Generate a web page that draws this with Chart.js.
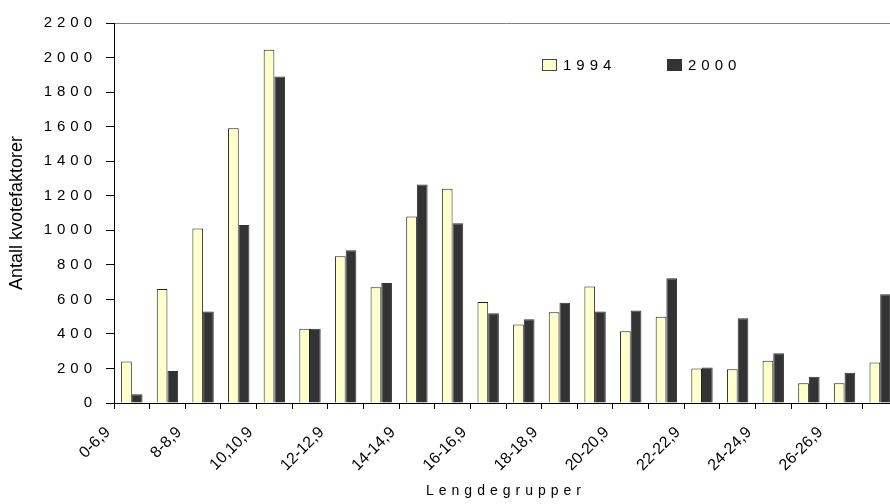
<!DOCTYPE html>
<html>
<head>
<meta charset="utf-8">
<script src="https://cdn.jsdelivr.net/npm/chart.js@4.4.1/dist/chart.umd.min.js"></script>
<style>
  html, body { margin: 0; padding: 0; background: #fff; overflow: hidden; }
  #wrap { position: relative; width: 898px; height: 504px; }
  #legend { position: absolute; left: 0; top: 0; font-family: "Liberation Sans", Arial, sans-serif; font-size: 15px; color: #000; }
  .item { position: absolute; top: 56px; line-height: 17px; white-space: nowrap; letter-spacing: 5px; }
  .box { display: inline-block; width: 13px; height: 10px; border: 1px solid #444; margin-right: 6px; vertical-align: -1px; }
</style>
</head>
<body>
<div id="wrap">
  <canvas id="chart" width="898" height="504"></canvas>
  <div id="legend"></div>
</div>
<script>
const lengthGroups = ["0-6,9", "7-7,9", "8-8,9", "9-9,9", "10,10,9", "11-11,9", "12-12,9", "13-13,9",
  "14-14,9", "15-15,9", "16-16,9", "17-17,9", "18-18,9", "19-19,9", "20-20,9", "21-21,9",
  "22-22,9", "23-23,9", "24-24,9", "25-25,9", "26-26,9", "27-27,9"];
const values1994 = [240, 660, 1010, 1590, 2045, 430, 850, 670, 1080, 1240, 585,
  455, 525, 675, 415, 500, 200, 195, 245, 115, 115, 235];
const values2000 = [50, 185, 530, 1030, 1890, 430, 885, 695, 1265, 1040, 520,
  485, 580, 530, 535, 722, 205, 490, 288, 152, 175, 630];
const seriesNames = ["1994", "2000"];
const seriesColors = ["#ffffcc", "#333333"];
const yMax = 2200;
const yStep = 200;

// canvas has no letter-spacing option in chart.js, so scales are drawn by hand
const letterSpacing = {
  x: { title: "5px", ticks: "0px" },
  y: { title: "0px", ticks: "5px" },
};
const spacedText = {
  id: "spacedText",
  beforeLayout(chart) {
    const ctx = chart.ctx;
    Object.keys(chart.scales).forEach((id) => {
      const sp = letterSpacing[id] || { title: "0px", ticks: "0px" };
      chart.scales[id].draw = function (area) {
        this.drawBackground();
        this.drawGrid(area);
        this.drawBorder();
        ctx.letterSpacing = sp.title;
        this.drawTitle();
        ctx.letterSpacing = sp.ticks;
        this.drawLabels(area);
        ctx.letterSpacing = "0px";
      };
    });
  },
};

const font = "'Liberation Sans', Arial, sans-serif";
const ctx = document.getElementById("chart").getContext("2d");
const myChart = new Chart(ctx, {
  type: "bar",
  data: {
    labels: lengthGroups,
    datasets: [
      {
        label: seriesNames[0],
        data: values1994,
        backgroundColor: seriesColors[0],
        borderColor: "#222",
        borderWidth: 1,
      },
      {
        label: seriesNames[1],
        data: values2000,
        backgroundColor: seriesColors[1],
        borderColor: "#333",
        borderWidth: 1,
      },
    ],
  },
  options: {
    responsive: false,
    animation: false,
    layout: { padding: { top: 23, right: 0, bottom: 0, left: 0 } },
    datasets: {
      bar: { barPercentage: 1, categoryPercentage: 0.6 },
    },
    plugins: {
      legend: { display: false },
      tooltip: { enabled: false },
    },
    scales: {
      x: {
        afterFit: (scale) => {
          scale.height = 101;
          scale.paddingLeft = 0;
          scale.paddingRight = 0;
        },
        grid: { drawOnChartArea: false, tickColor: "#000", tickLength: 6 },
        border: { color: "#000", width: 1 },
        ticks: {
          autoSkip: false,
          minRotation: 45,
          maxRotation: 45,
          padding: 14,
          labelOffset: -24,
          color: "#000",
          font: { family: font, size: 16 },
          callback: function (value, index) {
            return index % 2 == 0 ? this.getLabelForValue(value) : "";
          },
        },
        title: {
          display: true,
          text: "Lengdegrupper",
          color: "#000",
          font: { family: font, size: 14 },
          padding: { top: 0, bottom: 4 },
        },
      },
      y: {
        min: 0,
        max: yMax,
        afterFit: (scale) => { scale.width = 114; },
        grid: {
          color: (c) => (c.tick && c.tick.value == yMax ? "#808080" : "rgba(0,0,0,0)"),
          tickColor: "#000",
          tickLength: 8,
        },
        border: { color: "#000", width: 1 },
        ticks: {
          stepSize: yStep,
          padding: 9,
          color: "#000",
          font: { family: font, size: 15 },
          callback: (value) => String(value),
        },
        title: {
          display: true,
          text: "Antall kvotefaktorer",
          color: "#000",
          font: { family: font, size: 18 },
          padding: { top: 6, bottom: 0 },
        },
      },
    },
  },
  plugins: [spacedText],
});

// legend inside the plot, built from the datasets
const legendEl = document.getElementById("legend");
myChart.data.datasets.forEach((ds, i) => {
  const item = document.createElement("div");
  item.className = "item";
  item.style.left = 542 + i * 125 + "px";
  const box = document.createElement("span");
  box.className = "box";
  box.style.background = ds.backgroundColor;
  if (i == 1) box.style.borderColor = "#333";
  item.appendChild(box);
  item.appendChild(document.createTextNode(ds.label));
  legendEl.appendChild(item);
});
</script>
</body>
</html>
